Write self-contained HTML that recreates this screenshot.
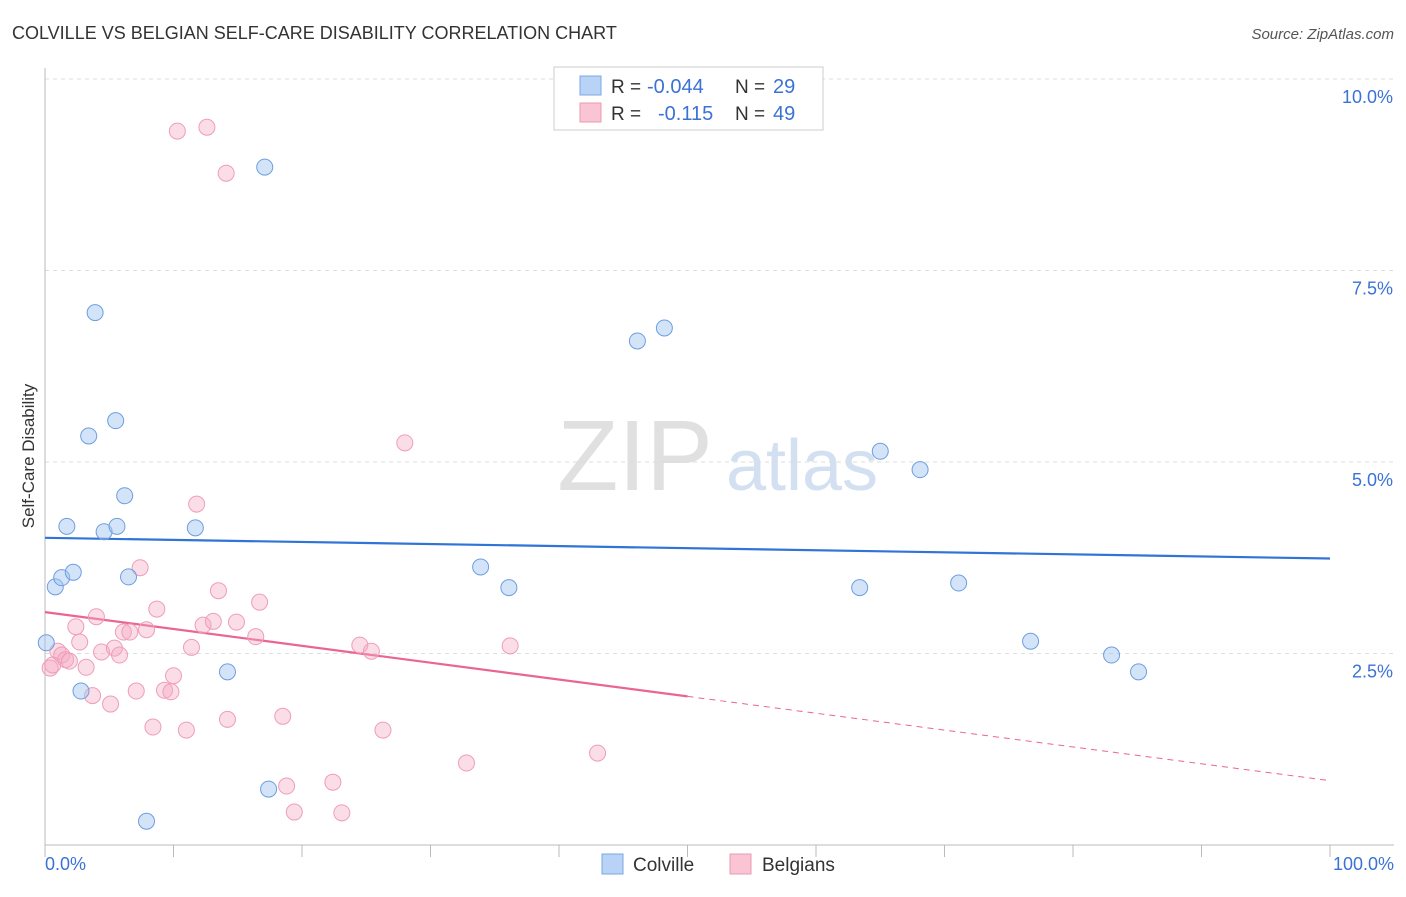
<!DOCTYPE html>
<html><head><meta charset="utf-8"><style>
body{margin:0;background:#fff;font-family:"Liberation Sans",sans-serif;}
svg text{font-family:"Liberation Sans",sans-serif;}
</style></head><body>
<svg id="chart" width="1406" height="892" xmlns="http://www.w3.org/2000/svg">
<text x="12" y="39" font-size="18" fill="#333">COLVILLE VS BELGIAN SELF-CARE DISABILITY CORRELATION CHART</text>
<text x="1394" y="39" font-size="15" fill="#555" text-anchor="end" font-style="italic">Source: ZipAtlas.com</text>
<text transform="translate(34,456) rotate(-90)" font-size="17" fill="#333" text-anchor="middle">Self-Care Disability</text>
<g>
<text x="635" y="490" font-size="100" fill="#e0e0e0" text-anchor="middle" font-family="Liberation Serif,serif">ZIP</text>
<text x="802" y="490" font-size="72" fill="#d3e0f2" text-anchor="middle">atlas</text>
</g>
<g id="grid"></g><g id="axes"></g><g id="trend"></g><g id="pts"></g>
<g>
<rect x="554" y="67" width="269" height="63" fill="#fff" stroke="#ccc"/>
<rect x="580" y="76" width="21" height="19" fill="#b8d3f5" stroke="#7aa7e6"/>
<rect x="580" y="103" width="21" height="19" fill="#f9c4d3" stroke="#ee99b3"/>
<text x="611" y="93" font-size="19" fill="#333">R =</text>
<text x="647" y="93" font-size="20" fill="#3b72d6">-0.044</text>
<text x="735" y="93" font-size="19" fill="#333">N =</text>
<text x="773" y="93" font-size="20" fill="#3b72d6">29</text>
<text x="611" y="120" font-size="19" fill="#333">R =</text>
<text x="658" y="120" font-size="20" fill="#3b72d6">-0.115</text>
<text x="735" y="120" font-size="19" fill="#333">N =</text>
<text x="773" y="120" font-size="20" fill="#3b72d6">49</text>
</g>
<g>
<rect x="602" y="854" width="21" height="20" fill="#b8d3f5" stroke="#7aa7e6"/>
<text x="633" y="871" font-size="19" fill="#333">Colville</text>
<rect x="730" y="854" width="21" height="20" fill="#f9c4d3" stroke="#ee99b3"/>
<text x="762" y="871" font-size="19" fill="#333">Belgians</text>
</g>
</svg>
<script>
const yTicks=[2.5,5.0,7.5,10.0];
const xTickVals=[0,10,20,30,40,50,60,70,80,90,100];
const xLabels=["0.0%","100.0%"];
const colX=[0.1,0.8,1.3,1.7,2.2,2.8,3.4,3.9,4.6,5.5,5.6,6.2,6.5,7.9,11.7,14.2,17.1,17.4,33.9,36.1,46.1,48.2,63.4,65.0,68.1,71.1,76.7,83.0,85.1];
const colY=[2.64,3.37,3.49,4.16,3.56,2.01,5.34,6.95,4.09,5.54,4.16,4.56,3.50,0.31,4.14,2.26,8.85,0.73,3.63,3.36,6.58,6.75,3.36,5.14,4.90,3.42,2.66,2.48,2.26];
const belX=[0.4,0.6,1.0,1.3,1.6,1.9,2.4,2.7,3.2,3.7,4.0,4.4,5.1,5.4,5.8,6.1,6.6,7.1,7.4,7.9,8.4,8.7,9.3,9.8,10.0,10.3,11.0,11.4,11.8,12.3,12.6,13.1,13.5,14.1,14.2,14.9,16.4,16.7,18.5,18.8,19.4,22.4,23.1,24.5,25.4,26.3,28.0,32.8,36.2,43.0];
const belY=[2.31,2.35,2.53,2.48,2.42,2.40,2.85,2.65,2.32,1.95,2.98,2.52,1.84,2.57,2.48,2.78,2.78,2.01,3.62,2.81,1.54,3.08,2.02,2.00,2.21,9.32,1.50,2.58,4.45,2.87,9.37,2.92,3.32,8.77,1.64,2.91,2.72,3.17,1.68,0.77,0.43,0.82,0.42,2.61,2.53,1.50,5.25,1.07,2.60,1.20];
const colTrend=[4.01,3.74];
const belTrend=[3.04,0.84];
const belSolidEnd=50;
const X=v=>45+v*12.85, Y=v=>845-v*76.6;
const NS="http://www.w3.org/2000/svg";
function mk(p,t,a){const e=document.createElementNS(NS,t);for(const k in a)e.setAttribute(k,a[k]);p.appendChild(e);return e;}
const g=document.getElementById('grid'),ax=document.getElementById('axes'),tr=document.getElementById('trend'),pts=document.getElementById('pts');
yTicks.forEach(v=>{
 const l=mk(g,'line',{x1:45,x2:1394,y1:Y(v),y2:Y(v),stroke:'#ddd','stroke-dasharray':'4,4'});
 
 
 const t=mk(g,'text',{x:1393,y:Y(v)+24,'font-size':18,fill:'#3b72d6','text-anchor':'end'});
 t.textContent=v.toFixed(1)+'%';
 
 
});
mk(ax,'line',{x1:45,x2:45,y1:68,y2:845,stroke:'#bbb'});
mk(ax,'line',{x1:45,x2:1394,y1:845,y2:845,stroke:'#bbb'});
xTickVals.forEach(v=>{
 const l=mk(ax,'line',{x1:X(v),x2:X(v),y1:845,y2:857,stroke:'#bbb'});
 
 
});
[[0,'start',45],[1,'end',1394]].forEach(([i,a,x])=>{
 const t=mk(ax,'text',{x:x,y:870,'font-size':18,fill:'#3b72d6','text-anchor':a});
 t.textContent=xLabels[i];
 
 
});
const cl=mk(tr,'line',{x1:X(0),x2:X(100),y1:Y(colTrend[0]),y2:Y(colTrend[1]),stroke:'#2f74d6','stroke-width':2.2});


const bm=belTrend[0]+(belTrend[1]-belTrend[0])*belSolidEnd/100;
const bl=mk(tr,'line',{x1:X(0),x2:X(belSolidEnd),y1:Y(belTrend[0]),y2:Y(bm),stroke:'#ea6593','stroke-width':2.2});


const bd=mk(tr,'line',{x1:X(belSolidEnd),x2:X(100),y1:Y(bm),y2:Y(belTrend[1]),stroke:'#ea6593','stroke-width':1,'stroke-dasharray':'6,5'});


belX.forEach((x,i)=>{
 const c=mk(pts,'circle',{cx:X(x),cy:Y(belY[i]),r:8,fill:'rgba(246,170,195,0.4)',stroke:'#ef9db8','stroke-width':1});
 
 
});
colX.forEach((x,i)=>{
 const c=mk(pts,'circle',{cx:X(x),cy:Y(colY[i]),r:8,fill:'rgba(160,195,240,0.45)',stroke:'#6d9ee0','stroke-width':1});
 
 
});
</script>
</body></html>
